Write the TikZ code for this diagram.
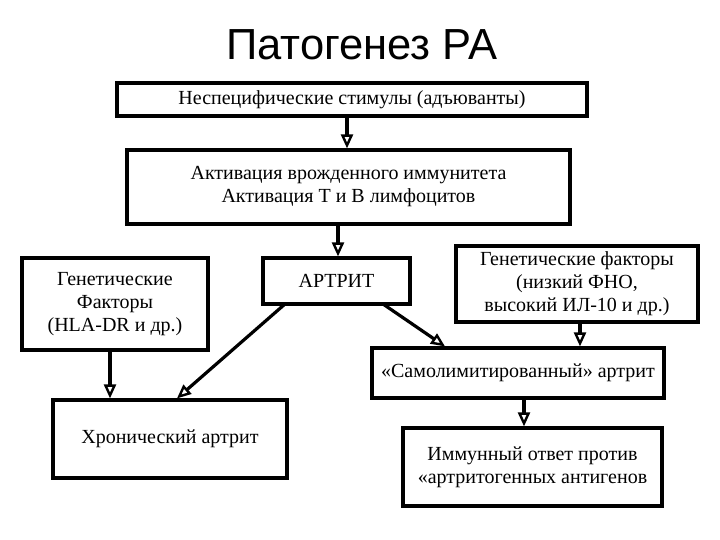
\documentclass[tikz,border=0pt]{standalone}
\usepackage{fontspec}
\setmainfont{Liberation Serif}
\newfontfamily\titlefont{Liberation Sans}
\usetikzlibrary{arrows.meta}
\begin{document}
\begin{tikzpicture}[x=1pt,y=-1pt,
  box/.style={draw, line width=3.2pt, inner sep=0pt, align=center, font=\fontsize{20}{23}\selectfont},
  arr/.style={line width=3.2pt, -{Triangle[open,length=14pt,width=12pt,line width=2.4pt]}}]
\useasboundingbox (0,0) rectangle (720,540);
\node[font=\titlefont\fontsize{43.5}{48}\selectfont] (title) at (362,45) {Патогенез РА};
\node[box, minimum width=470pt, minimum height=33pt] (b1) at (352,99.5) {Неспецифические стимулы (адъюванты)};
\node[box, minimum width=443pt, minimum height=74pt] (b2) at (348.5,187) {Активация врожденного иммунитета\\Активация Т и В лимфоцитов};
\node[box, minimum width=147pt, minimum height=46pt] (art) at (336.5,281) {АРТРИТ};
\node[box, minimum width=186pt, minimum height=92pt] (gl) at (115,304) {Генетические\\Факторы\\(HLA-DR и др.)};
\node[box, minimum width=242pt, minimum height=76pt] (gr) at (577,284) {Генетические факторы\\(низкий ФНО,\\высокий ИЛ-10 и др.)};
\node[box, minimum width=292pt, minimum height=50pt] (sl) at (518,373) {«Самолимитированный» артрит};
\node[box, minimum width=234pt, minimum height=78pt] (hr) at (170,439) {Хронический артрит};
\node[box, minimum width=259pt, minimum height=78pt] (im) at (532.5,467) {Иммунный ответ против\\«артритогенных антигенов};
\draw[arr] (b1.south -| 347,0) -- (b2.north -| 347,0);
\draw[arr] (b2.south -| 338,0) -- (art.north -| 338,0);
\draw[arr] (gl.south -| 110,0) -- (hr.north -| 110,0);
\draw[arr] (gr.south -| 580,0) -- (sl.north -| 580,0);
\draw[arr] (sl.south -| 524,0) -- (im.north -| 524,0);
\coordinate (a1) at (285,304);
\coordinate (a2) at (383,304);
\draw[arr] (a1) -- (hr.north -| 177,0);
\draw[arr] (a2) -- (sl.north -| 445,0);
\end{tikzpicture}
\end{document}
